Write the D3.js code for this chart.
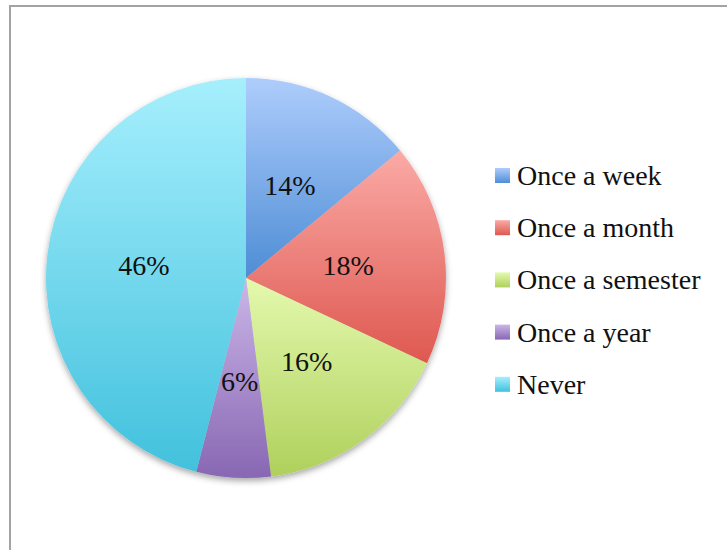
<!DOCTYPE html>
<html>
<head>
<meta charset="utf-8">
<script src="https://cdn.jsdelivr.net/npm/d3@7"></script>
<style>
  body { margin: 0; background: #fff; }
  svg text { font-family: "Liberation Serif", "DejaVu Serif", serif; fill: #111; }
</style>
</head>
<body>
<script>
// chart data
var categories = ["Once a week", "Once a month", "Once a semester", "Once a year", "Never"];
var shares = [14, 18, 16, 6, 46];
var topColors = ["#aecdfc", "#fbaaa6", "#e4f9ae", "#cbb6e8", "#a6effd"];
var bottomColors = ["#4e8dd5", "#de5850", "#afd05c", "#8867b3", "#42c1dd"];

var width = 727, height = 550;
var cx = 246, cy = 278, radius = 200;

var svg = d3.select("body").append("svg")
    .attr("width", width)
    .attr("height", height);

// frame
svg.append("rect")
    .attr("x", 10)
    .attr("y", 6)
    .attr("width", 800)
    .attr("height", 600)
    .attr("fill", "#fff")
    .attr("stroke", "#a3a3a3")
    .attr("stroke-width", 2);

var defs = svg.append("defs");

var shadow = defs.append("filter")
    .attr("id", "shadow")
    .attr("x", "-10%").attr("y", "-10%")
    .attr("width", "120%").attr("height", "125%");
shadow.append("feDropShadow")
    .attr("dx", 0).attr("dy", 3)
    .attr("stdDeviation", 3)
    .attr("flood-color", "#000")
    .attr("flood-opacity", 0.35);

categories.forEach(function(c, i) {
  var g = defs.append("linearGradient")
      .attr("id", "grad" + i)
      .attr("x1", 0).attr("y1", 0)
      .attr("x2", 0).attr("y2", 1);
  g.append("stop").attr("offset", "0%").attr("stop-color", topColors[i]);
  g.append("stop").attr("offset", "100%").attr("stop-color", bottomColors[i]);
});

var data = categories.map(function(c, i) { return {name: c, value: shares[i], idx: i}; });

var pie = d3.pie()
    .sort(null)
    .value(function(d) { return d.value; });

var arc = d3.arc()
    .innerRadius(0)
    .outerRadius(radius);

var labelArc = d3.arc()
    .innerRadius(0)
    .outerRadius(2 * 103);

var arcs = pie(data);

var chart = svg.append("g")
    .attr("transform", "translate(" + cx + "," + cy + ")");

chart.append("g")
    .attr("filter", "url(#shadow)")
  .selectAll("path")
    .data(arcs)
    .enter().append("path")
    .attr("d", arc)
    .attr("fill", function(d) { return "url(#grad" + d.data.idx + ")"; });

chart.selectAll(".label")
    .data(arcs)
    .enter().append("text")
    .attr("class", "label")
    .attr("transform", function(d) { return "translate(" + labelArc.centroid(d) + ")"; })
    .attr("dy", "0.35em")
    .attr("text-anchor", "middle")
    .style("font-size", "28px")
    .text(function(d) { return d.data.value + "%"; });

// legend
var legend = svg.append("g")
    .attr("transform", "translate(495,168)");

var item = legend.selectAll(".item")
    .data(data)
    .enter().append("g")
    .attr("class", "item")
    .attr("transform", function(d, i) { return "translate(0," + (i * 52.2) + ")"; });

item.append("rect")
    .attr("width", 15)
    .attr("height", 15)
    .attr("fill", function(d) { return "url(#grad" + d.idx + ")"; });

item.append("text")
    .attr("x", 22)
    .attr("y", 17)
    .style("font-size", "28px")
    .text(function(d) { return d.name; });
</script>
</body>
</html>
